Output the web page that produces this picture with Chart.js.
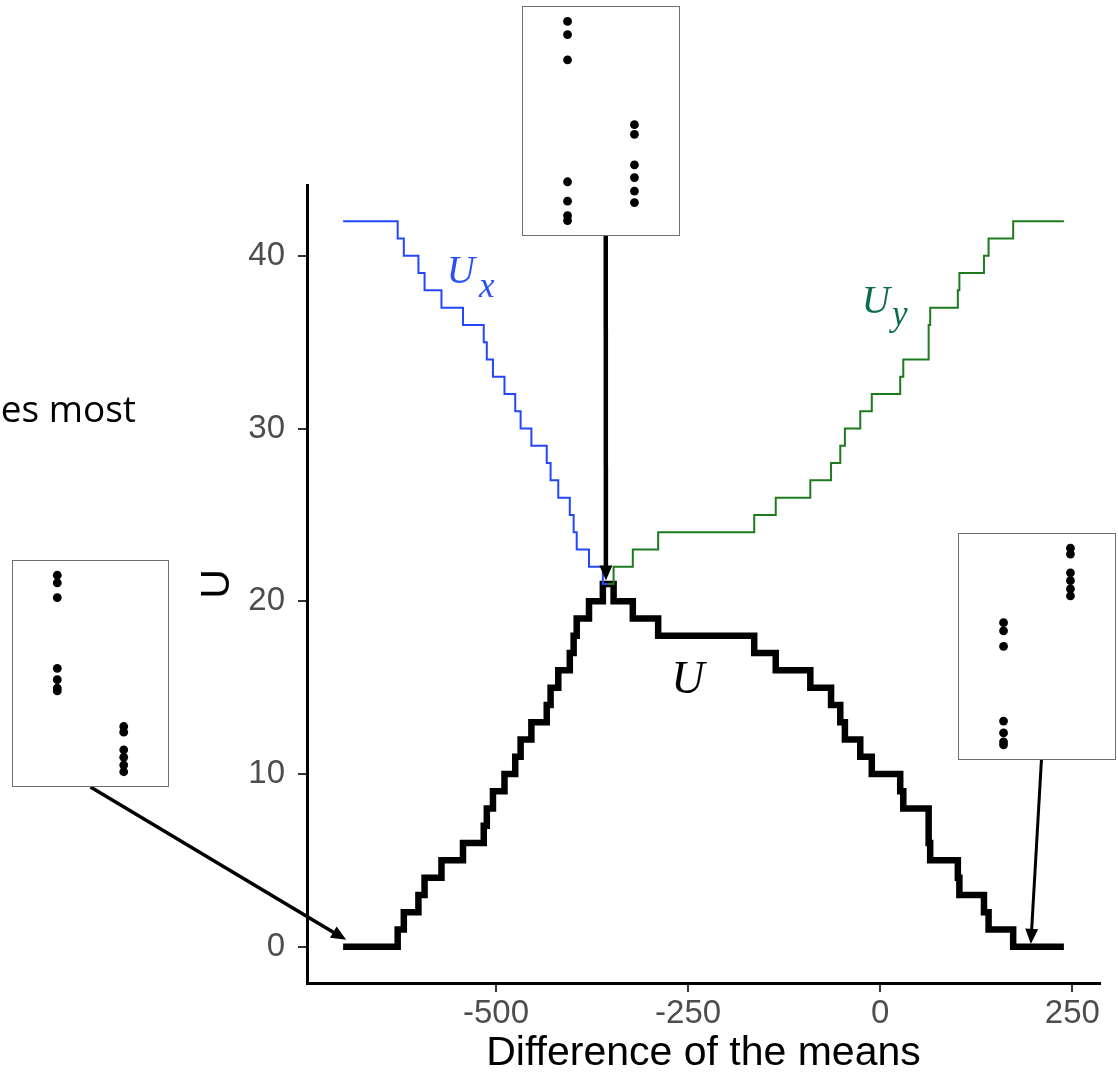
<!DOCTYPE html>
<html>
<head>
<meta charset="utf-8">
<script src="https://cdn.jsdelivr.net/npm/chart.js@4.4.1/dist/chart.umd.min.js"></script>
<style>
  html, body { margin: 0; padding: 0; background: #ffffff; }
  #stage { position: relative; width: 1118px; height: 1078px; overflow: hidden; background: #ffffff; }
  #main { position: absolute; left: 0; top: 0; }
  .inset { position: absolute; box-sizing: border-box; border: 1.5px solid #6e6e6e; background: #ffffff; }
  .inset canvas { display: block; }
</style>
</head>
<body>
<div id="stage">
  <canvas id="main" width="1118" height="1078"></canvas>
  <div class="inset" id="insetLeft" style="left:12px; top:560px; width:157px; height:227px;"><canvas></canvas></div>
  <div class="inset" id="insetTop" style="left:522px; top:6px; width:158px; height:230px;"><canvas></canvas></div>
  <div class="inset" id="insetRight" style="left:958px; top:533px; width:158px; height:227px;"><canvas></canvas></div>
</div>
<script>
// ---- U statistic as a function of the shift (difference of the means) ----
// Each point is where the step function takes its new value.
const shiftU = [-699, -628, -620, -601, -593, -571, -543, -516, -512, -504, -489, -475, -468, -454,
                -434, -429, -419, -404, -399, -395, -379, -361, -347, -322, -289, -164, -136, -91,
                -64, -52, -46, -26, -11, 26, 30, 63, 65, 101, 103, 135, 141, 173, 239];
const uValues = [0, 1, 2, 3, 4, 5, 6, 7, 8, 9, 10, 11, 12, 13, 14, 15, 16, 17, 18, 19, 20, 21,
                 20, 19, 18, 17, 16, 15, 14, 13, 12, 11, 10, 9, 8, 6, 5, 4, 3, 2, 1, 0, 0];

// U_x, shown on the left branch
const shiftUx = [-699, -628, -620, -601, -593, -571, -543, -516, -512, -504, -489, -475, -468, -454,
                 -434, -429, -419, -404, -399, -395, -379, -361, -355];
const uxValues = [42, 41, 40, 39, 38, 37, 36, 35, 34, 33, 32, 31, 30, 29, 28, 27, 26, 25, 24, 23, 22, 21, 21];

// U_y, shown on the right branch
const shiftUy = [-355, -347, -322, -289, -164, -136, -91, -64, -52, -46, -26, -11, 26, 30, 63, 65,
                 101, 103, 135, 141, 173, 239];
const uyValues = [21, 22, 23, 24, 25, 26, 27, 28, 29, 30, 31, 32, 33, 34, 36, 37, 38, 39, 40, 41, 42, 42];

// axis ticks
const xTickValues = [-500, -250, 0, 250];
const yTickValues = [0, 10, 20, 30, 40];
const xAxisTitle = 'Difference of the means';
const yAxisTitle = 'U';

// ---- the two samples drawn in the small panels ----
const sampleA = [575, 537, 464, 112, 56, 14, 0];            // first group (7 values)
const sampleBLeft = [-177, -205, -293, -330, -369, -402];   // second group, shifted far down
const sampleBTop = [277, 249, 161, 124, 85, 52];            // second group, overlapping
const sampleBRight = [926, 898, 810, 773, 734, 701];        // second group, shifted far up

// ---- curve labels and arrows (anchored in data coordinates) ----
const curveLabels = [
  { text: 'U', sub: 'x', x: -564, y: 38.4, size: 39, subSize: 35, subDx: 4, subDy: 14, color: '#2a4ff2' },
  { text: 'U', sub: 'y', x: -24, y: 36.7, size: 39, subSize: 35, subDx: 2, subDy: 12, color: '#0d6b50' },
  { text: 'U', sub: '', x: -272, y: 14.7, size: 46, color: '#000000' }
];
const arrowSpecs = [
  { panel: 'insetLeft', tailFrac: 0.5, tipX: -695, tipY: 0.4, width: 3.5 },
  { panel: 'insetTop', tailFrac: 0.53, tipX: -357, tipY: 21.2, width: 4.5 },
  { panel: 'insetRight', tailFrac: 0.528, tipX: 196, tipY: 0.16, width: 3 }
];

const toPoints = (xs, ys) => xs.map((x, i) => ({ x: x, y: ys[i] }));

const overlayPlugin = {
  id: 'overlay',
  afterDraw(chart) {
    const ctx = chart.ctx;
    const xs = chart.scales.x, ys = chart.scales.y;
    ctx.save();

    // clipped slide text on the left edge
    ctx.fillStyle = '#000000';
    ctx.font = '37px "Open Sans"';
    ctx.textAlign = 'right';
    ctx.textBaseline = 'alphabetic';
    ctx.fillText('es most', 136, 422);

    // curve labels
    ctx.textAlign = 'left';
    curveLabels.forEach(l => {
      const px = xs.getPixelForValue(l.x);
      const py = ys.getPixelForValue(l.y);
      ctx.fillStyle = l.color;
      ctx.font = 'italic ' + l.size + 'px "Liberation Serif"';
      ctx.fillText(l.text, px, py);
      if (l.sub) {
        const w = ctx.measureText(l.text).width;
        ctx.font = 'italic ' + l.subSize + 'px "Liberation Serif"';
        ctx.fillText(l.sub, px + w + l.subDx, py + l.subDy);
      }
    });

    // arrows from the panels to the curve
    ctx.fillStyle = '#000000';
    ctx.strokeStyle = '#000000';
    arrowSpecs.forEach(a => {
      const el = document.getElementById(a.panel);
      const tx = el.offsetLeft + el.offsetWidth * a.tailFrac;
      const ty = el.offsetTop + el.offsetHeight;
      const hx = xs.getPixelForValue(a.tipX);
      const hy = ys.getPixelForValue(a.tipY);
      const dx = hx - tx, dy = hy - ty;
      const len = Math.hypot(dx, dy);
      const ux = dx / len, uy = dy / len;
      const headLen = 15, headHalf = 6.5;
      const bx = hx - ux * headLen, by = hy - uy * headLen;
      ctx.lineWidth = a.width;
      ctx.lineCap = 'butt';
      ctx.beginPath();
      ctx.moveTo(tx, ty);
      ctx.lineTo(bx + ux * 2, by + uy * 2);
      ctx.stroke();
      ctx.beginPath();
      ctx.moveTo(hx, hy);
      ctx.lineTo(bx - uy * headHalf, by + ux * headHalf);
      ctx.lineTo(bx + uy * headHalf, by - ux * headHalf);
      ctx.closePath();
      ctx.fill();
    });
    ctx.restore();
  }
};

const tickFont = { family: '"Liberation Sans", Arial, sans-serif', size: 33 };
const titleFont = { family: '"Liberation Sans", Arial, sans-serif', size: 41, lineHeight: 1.2 };

new Chart(document.getElementById('main'), {
  type: 'line',
  data: {
    datasets: [
      { label: 'U_x', data: toPoints(shiftUx, uxValues), borderColor: '#2346ff', borderWidth: 2,
        stepped: true, pointRadius: 0, fill: false, borderJoinStyle: 'miter' },
      { label: 'U_y', data: toPoints(shiftUy, uyValues), borderColor: '#1e7a1e', borderWidth: 2,
        stepped: true, pointRadius: 0, fill: false, borderJoinStyle: 'miter' },
      { label: 'U', data: toPoints(shiftU, uValues), borderColor: '#000000', borderWidth: 6.5,
        stepped: true, pointRadius: 0, fill: false, borderJoinStyle: 'miter' }
    ]
  },
  options: {
    responsive: false,
    animation: false,
    events: [],
    layout: { padding: { left: 193, right: 18, top: 185, bottom: 0 } },
    plugins: { legend: { display: false }, tooltip: { enabled: false } },
    scales: {
      x: {
        type: 'linear', min: -746, max: 286,
        afterBuildTicks: s => { s.ticks = xTickValues.map(v => ({ value: v })); },
        afterFit: s => { s.height = 95; },
        ticks: { color: '#4d4d4d', font: tickFont, padding: 2, autoSkip: false, maxRotation: 0,
                 callback: v => String(v) },
        grid: { drawOnChartArea: false, drawTicks: true, tickLength: 9, color: '#333333', lineWidth: 2 },
        border: { display: true, color: '#000000', width: 3 },
        title: { display: true, text: xAxisTitle, color: '#000000', font: titleFont, padding: 0 }
      },
      y: {
        type: 'linear', min: -2.1, max: 44.1,
        afterBuildTicks: s => { s.ticks = yTickValues.map(v => ({ value: v })); },
        afterFit: s => { s.width = 114; },
        ticks: { color: '#4d4d4d', font: tickFont, padding: 13, callback: v => String(v) },
        grid: { drawOnChartArea: false, drawTicks: true, tickLength: 9, color: '#333333', lineWidth: 2 },
        border: { display: true, color: '#000000', width: 3 },
        title: { display: true, text: yAxisTitle, color: '#000000', font: titleFont, padding: 0 }
      }
    }
  },
  plugins: [overlayPlugin]
});

// small dot-plot panels
function makePanel(id, groupA, groupB, yMin, yMax) {
  const holder = document.getElementById(id);
  const canvas = holder.querySelector('canvas');
  canvas.width = holder.clientWidth;
  canvas.height = holder.clientHeight;
  new Chart(canvas, {
    type: 'scatter',
    data: {
      datasets: [
        { data: groupA.map(v => ({ x: 1, y: v })) },
        { data: groupB.map(v => ({ x: 2, y: v })) }
      ]
    },
    options: {
      responsive: false,
      animation: false,
      events: [],
      layout: { padding: 0 },
      plugins: { legend: { display: false }, tooltip: { enabled: false } },
      elements: { point: { radius: 4.4, backgroundColor: '#000000', borderWidth: 0 } },
      scales: {
        x: { type: 'linear', display: false, min: 0.4, max: 2.6 },
        y: { type: 'linear', display: false, min: yMin, max: yMax }
      }
    }
  });
}
makePanel('insetLeft', sampleA, sampleBLeft, -451, 624);
makePanel('insetTop', sampleA, sampleBTop, -29, 604);
makePanel('insetRight', sampleA, sampleBRight, -46, 972);
</script>
</body>
</html>
